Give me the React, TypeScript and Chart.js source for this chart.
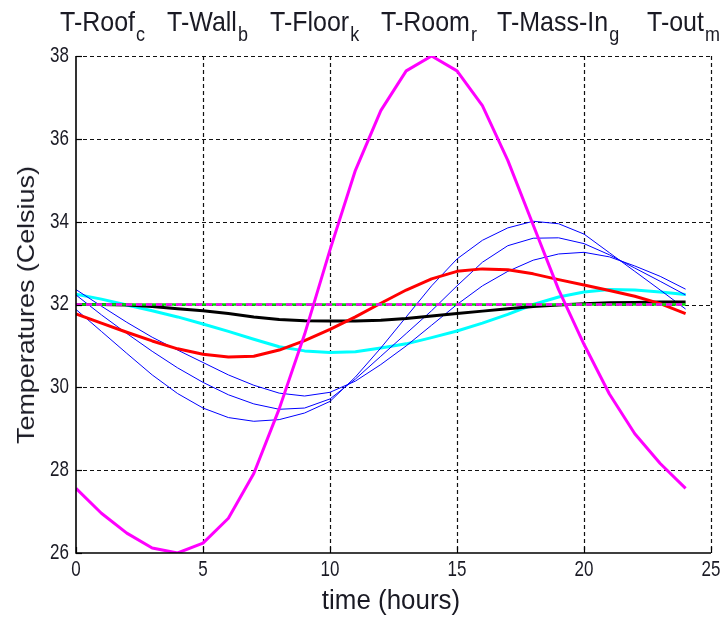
import React, { useEffect, useRef } from "react";
import { Chart, registerables } from "chart.js";

Chart.register(...registerables);

// ---- data ----
const hours = [0, 1, 2, 3, 4, 5, 6, 7, 8, 9, 10, 11, 12, 13, 14, 15, 16, 17, 18, 19, 20, 21, 22, 23, 24];

const tOut = [27.56, 26.96, 26.48, 26.12, 26.0, 26.24, 26.84, 27.92, 29.48, 31.28, 33.32, 35.24, 36.68, 37.64, 38.0, 37.64, 36.8, 35.48, 33.92, 32.36, 31.04, 29.84, 28.88, 28.16, 27.56];
const tSet = [32, 32, 32, 32, 32, 32, 32, 32, 32, 32, 32, 32, 32, 32, 32, 32, 32, 32, 32, 32, 32, 32, 32, 32, 32];
const tMassIn = [32, 32, 32, 32, 32, 32, 32, 32, 32, 32, 32, 32, 32, 32, 32, 32, 32, 32, 32, 32, 32, 32, 32, 32, 32];
const tRoom = [31.77, 31.55, 31.33, 31.12, 30.93, 30.8, 30.73, 30.75, 30.9, 31.13, 31.4, 31.7, 32.03, 32.35, 32.62, 32.8, 32.86, 32.84, 32.74, 32.6, 32.47, 32.34, 32.2, 32.02, 31.78];
const tFloor = [32.0, 32.0, 31.99, 31.95, 31.9, 31.85, 31.78, 31.7, 31.64, 31.61, 31.6, 31.6, 31.62, 31.66, 31.72, 31.78, 31.84, 31.9, 31.95, 31.99, 32.02, 32.04, 32.05, 32.06, 32.06];
const tWallA = [31.88, 31.35, 30.82, 30.3, 29.85, 29.5, 29.27, 29.18, 29.22, 29.38, 29.66, 30.25, 30.95, 31.7, 32.45, 33.1, 33.55, 33.85, 34.01, 33.95, 33.7, 33.25, 32.8, 32.35, 31.89];
const tWallB = [32.23, 31.75, 31.3, 30.87, 30.47, 30.12, 29.82, 29.6, 29.47, 29.5, 29.72, 30.2, 30.75, 31.3, 31.85, 32.45, 33.02, 33.42, 33.6, 33.61, 33.47, 33.2, 32.88, 32.56, 32.23];
const tWallC = [32.36, 31.96, 31.57, 31.21, 30.9, 30.6, 30.3, 30.05, 29.86, 29.79, 29.88, 30.15, 30.55, 31.0, 31.5, 32.0, 32.45, 32.8, 33.07, 33.22, 33.26, 33.15, 32.93, 32.68, 32.37];
const tRoof = [32.25, 32.13, 31.99, 31.85, 31.7, 31.53, 31.35, 31.16, 30.98, 30.88, 30.84, 30.86, 30.95, 31.05, 31.2, 31.36, 31.55, 31.76, 32.0, 32.18, 32.3, 32.36, 32.35, 32.3, 32.24];

const xTicks = [0, 5, 10, 15, 20, 25];
const yTicks = [26, 28, 30, 32, 34, 36, 38];

const legendItems = [
  { name: "T-Roof", sub: "c", left: 60 },
  { name: "T-Wall", sub: "b", left: 167 },
  { name: "T-Floor", sub: "k", left: 270 },
  { name: "T-Room", sub: "r", left: 381 },
  { name: "T-Mass-In", sub: "g", left: 497 },
  { name: "T-out", sub: "m", left: 647 },
];

const FONT = '"Liberation Sans", Arial, Helvetica, sans-serif';
const TEXT = "#1a1a24";

const gridPlugin = {
  id: "matlabGrid",
  beforeDatasetsDraw(chart: any) {
    const { ctx, chartArea, scales } = chart;
    const { left, right, top, bottom } = chartArea;
    ctx.save();
    ctx.strokeStyle = "#111";
    ctx.lineWidth = 1.2;
    ctx.setLineDash([4, 3]);
    xTicks.forEach((v) => {
      if (v === xTicks[0]) return;
      const px = Math.round(scales.x.getPixelForValue(v)) + 0.5;
      ctx.beginPath();
      ctx.moveTo(px, top);
      ctx.lineTo(px, bottom);
      ctx.stroke();
    });
    yTicks.forEach((v) => {
      if (v === yTicks[0]) return;
      const py = Math.round(scales.y.getPixelForValue(v)) + 0.5;
      ctx.beginPath();
      ctx.moveTo(left, py);
      ctx.lineTo(right, py);
      ctx.stroke();
    });
    ctx.restore();
  },
  afterDatasetsDraw(chart: any) {
    const { ctx, chartArea, scales } = chart;
    const { left, bottom, right, top } = chartArea;
    ctx.save();
    ctx.setLineDash([]);
    ctx.strokeStyle = "#000";
    ctx.lineWidth = 1.6;
    ctx.beginPath();
    ctx.moveTo(left, top);
    ctx.lineTo(left, bottom);
    ctx.lineTo(right, bottom);
    ctx.stroke();
    ctx.lineWidth = 1.2;
    xTicks.forEach((v) => {
      const px = Math.round(scales.x.getPixelForValue(v)) + 0.5;
      ctx.beginPath();
      ctx.moveTo(px, bottom);
      ctx.lineTo(px, bottom - 6);
      ctx.stroke();
    });
    yTicks.forEach((v) => {
      const py = Math.round(scales.y.getPixelForValue(v)) + 0.5;
      ctx.beginPath();
      ctx.moveTo(left, py);
      ctx.lineTo(left + 6, py);
      ctx.stroke();
    });
    ctx.fillStyle = TEXT;
    ctx.font = `17px ${FONT}`;
    ctx.textBaseline = "middle";
    ctx.textAlign = "center";
    xTicks.forEach((v) => {
      const px = scales.x.getPixelForValue(v);
      ctx.save();
      ctx.translate(px, bottom + 17);
      ctx.scale(1, 1.25);
      ctx.fillText(String(v), 0, 0);
      ctx.restore();
    });
    ctx.textAlign = "right";
    yTicks.forEach((v) => {
      const py = scales.y.getPixelForValue(v);
      ctx.save();
      ctx.translate(left - 7, py);
      ctx.scale(1, 1.25);
      ctx.fillText(String(v), 0, 0);
      ctx.restore();
    });
    ctx.restore();
  },
};

export default function App() {
  const ref = useRef<HTMLCanvasElement>(null);

  useEffect(() => {
    const canvas = ref.current;
    if (!canvas) return;
    const pts = (ys: number[]) => hours.map((h, i) => ({ x: h, y: ys[i] }));
    const ds = (label: string, ys: number[], color: string, width: number, dash: number[] = []) => ({
      label,
      data: pts(ys),
      borderColor: color,
      backgroundColor: color,
      borderWidth: width,
      borderDash: dash,
      pointRadius: 0,
      tension: 0,
      fill: false,
      borderCapStyle: "butt" as const,
      borderJoinStyle: "round" as const,
    });
    const chart = new Chart(canvas, {
      type: "line",
      data: {
        datasets: [
          ds("T-set", tSet, "#ff00ff", 2.5, [6, 4]),
          ds("T-out", tOut, "#ff00ff", 3),
          ds("T-Mass-In", tMassIn, "#00e000", 2.5),
          ds("T-Room", tRoom, "#ff0000", 3),
          ds("T-Floor", tFloor, "#000000", 3),
          ds("T-Wall 1", tWallA, "#0000ff", 1),
          ds("T-Wall 2", tWallB, "#0000ff", 1),
          ds("T-Wall 3", tWallC, "#0000ff", 1),
          ds("T-Roof", tRoof, "#00ffff", 3),
        ],
      },
      options: {
        animation: false,
        responsive: false,
        devicePixelRatio: 1,
        events: [],
        layout: { padding: { left: 76, top: 56, right: 17, bottom: 64 } },
        plugins: { legend: { display: false }, tooltip: { enabled: false }, title: { display: false } },
        scales: {
          x: { type: "linear", min: 0, max: 25, display: false },
          y: { type: "linear", min: 26, max: 38, display: false },
        },
      },
      plugins: [gridPlugin],
    });
    return () => chart.destroy();
  }, []);

  return (
    <div style={{ position: "absolute", left: 0, top: 0, width: 728, height: 617, background: "#fff", fontFamily: FONT, color: TEXT }}>
      <canvas ref={ref} width={728} height={617} style={{ position: "absolute", left: 0, top: 0 }} />
      {legendItems.map((it) => (
        <div
          key={it.name}
          style={{
            position: "absolute",
            left: it.left,
            top: 7,
            fontSize: 25,
            lineHeight: "25px",
            whiteSpace: "nowrap",
            transform: "scale(1, 1.12)",
            transformOrigin: "0 0",
          }}
        >
          {it.name}
          <span style={{ fontSize: 18, position: "relative", top: 9, marginLeft: 1 }}>{it.sub}</span>
        </div>
      ))}
      <div
        style={{
          position: "absolute",
          left: 26,
          top: 305,
          fontSize: 24,
          lineHeight: "26px",
          whiteSpace: "nowrap",
          transform: "translate(-50%, -50%) rotate(-90deg) scale(1.12, 1)",
        }}
      >
        Temperatures (Celsius)
      </div>
      <div
        style={{
          position: "absolute",
          left: 391,
          top: 600,
          fontSize: 24,
          lineHeight: "26px",
          whiteSpace: "nowrap",
          transform: "translate(-50%, -50%) scale(1.08, 1.12)",
        }}
      >
        time (hours)
      </div>
    </div>
  );
}
